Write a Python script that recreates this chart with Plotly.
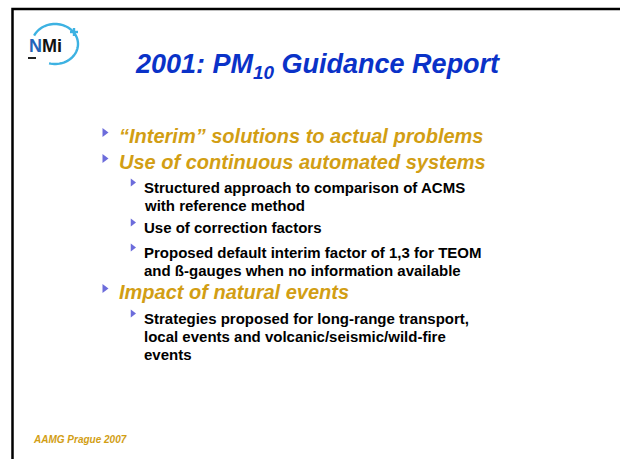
import math
import plotly.graph_objects as go

# ---------------- content ----------------
title_main = "2001: PM"
title_sub = "10"
title_rest = " Guidance Report"
footer_text = "AAMG Prague 2007"
logo_parts = ["N", "Mi"]

bullet_levels = [1, 1, 2, 2, 2, 1, 2]
bullet_lines = [
    ["\u201cInterim\u201d solutions to actual problems"],
    ["Use of continuous automated systems"],
    ["Structured approach to comparison of ACMS", "with reference method"],
    ["Use of correction factors"],
    ["Proposed default interim factor of 1,3 for TEOM",
     "and \u00df-gauges when no information available"],
    ["Impact of natural events"],
    ["Strategies proposed for long-range transport,",
     "local events and volcanic/seismic/wild-fire",
     "events"],
]

# ---------------- layout / styles ----------------
W, H = 620, 459
FONT = "Arial, Liberation Sans, sans-serif"
BLUE = "#0A32C8"
GOLD = "#D29E14"
BULLET = "#2E2ECC"
CYAN = "#3DB2E2"

# baselines of first line of each paragraph (px from top)
para_baseline = [143, 169, 192, 232, 257, 299, 323]
line_gap = {1: 26, 2: 18}
text_x = {1: 118, 2: 143}
tri_x = {1: 104.5, 2: 132.5}
font_size = {1: 20, 2: 15}
tri_size = {1: 8, 2: 7}

fig = go.Figure()
annotations = []
shapes = []


def add_text(x, baseline, html, size, color, anchor="left"):
    annotations.append(dict(
        x=x, y=baseline - 0.33 * size, xref="x", yref="y",
        text=html, showarrow=False, xanchor=anchor, yanchor="middle",
        font=dict(family=FONT, size=size, color=color), borderpad=0))


# Frame (top and left edges of slide border)
shapes.append(dict(type="path", path="M 12.5 480 L 12.5 9 L 640 9",
                   line=dict(color="black", width=2.5), xref="x", yref="y"))

# Logo ring
cx, cy, rx, ry = 55, 44, 23, 20
pts = []
for k in range(0, 61):
    th = math.radians(155 - k * (155 + 105) / 60)
    pts.append((cx + rx * math.cos(th), cy - ry * math.sin(th)))
path = "M " + " L ".join(f"{px:.2f} {py:.2f}" for px, py in pts)
shapes.append(dict(type="path", path=path, line=dict(color=CYAN, width=2.4),
                   xref="x", yref="y"))
# plus sign
shapes.append(dict(type="line", x0=70, x1=78, y0=32, y1=32,
                   line=dict(color=CYAN, width=2.4), xref="x", yref="y"))
shapes.append(dict(type="line", x0=74, x1=74, y0=28, y1=36,
                   line=dict(color=CYAN, width=2.4), xref="x", yref="y"))
# underscore below N
shapes.append(dict(type="line", x0=28, x1=36, y0=58, y1=58,
                   line=dict(color="#222222", width=2), xref="x", yref="y"))

add_text(28, 52, f"<b><span style='color:#2463B8'>{logo_parts[0]}</span>{logo_parts[1]}</b>",
         18, "#111111")

# Title
add_text(317, 75, f"<b><i>{title_main}<sub>{title_sub}</sub>{title_rest}</i></b>",
         27, BLUE, anchor="center")

# Bullets
tri_xs, tri_ys, tri_sz = [], [], []
for lvl, lines, b0 in zip(bullet_levels, bullet_lines, para_baseline):
    size = font_size[lvl]
    for i, line in enumerate(lines):
        bl = b0 + i * line_gap[lvl]
        if lvl == 1:
            add_text(text_x[lvl], bl, f"<b><i>{line}</i></b>", size, GOLD)
        else:
            add_text(text_x[lvl], bl, f"<b>{line}</b>", size, "#000000")
    tri_xs.append(tri_x[lvl])
    tri_ys.append(b0 - (10.5 if lvl == 1 else 9.5))
    tri_sz.append(tri_size[lvl])

fig.add_trace(go.Scatter(x=tri_xs, y=tri_ys, mode="markers",
                         marker=dict(symbol="triangle-right", size=tri_sz,
                                     color=BULLET, line=dict(width=0)),
                         hoverinfo="skip", showlegend=False))

# Footer
add_text(32, 443, f"<b><i>{footer_text}</i></b>", 10, GOLD)

fig.update_layout(
    width=W, height=H, margin=dict(l=0, r=0, t=0, b=0),
    paper_bgcolor="white", plot_bgcolor="white",
    xaxis=dict(range=[0, W], visible=False, fixedrange=True),
    yaxis=dict(range=[H, 0], visible=False, fixedrange=True),
    annotations=annotations, shapes=shapes, showlegend=False,
)
fig.write_html("out.html", config={"displayModeBar": False},
               post_script="document.body.style.margin='0px';document.body.style.overflow='hidden';")
